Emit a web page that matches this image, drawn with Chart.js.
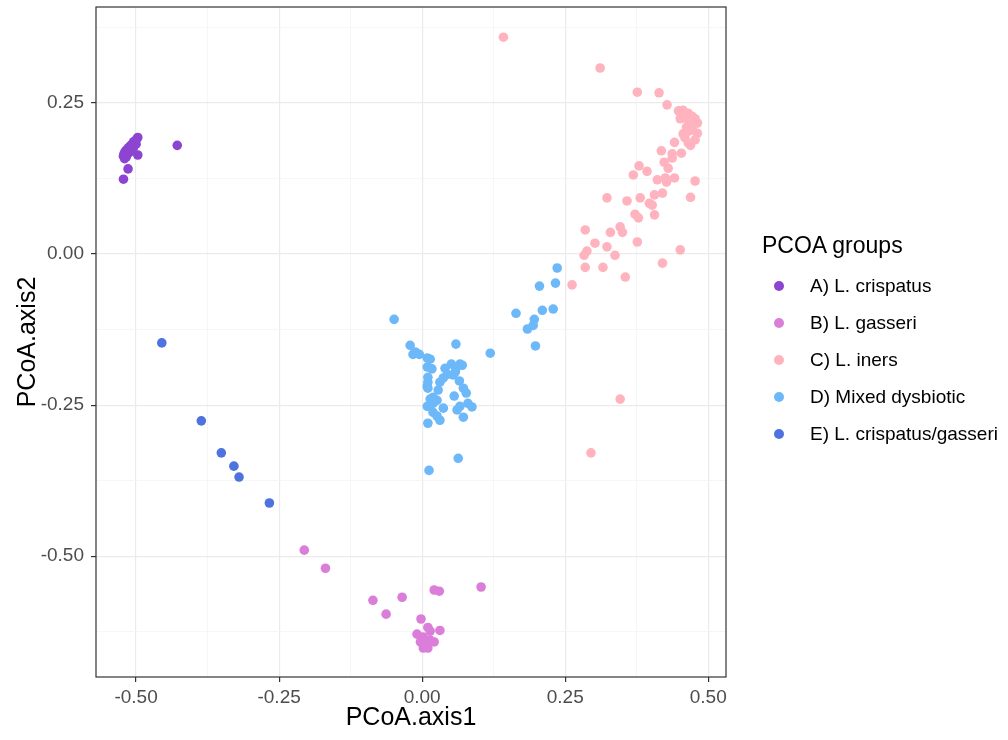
<!DOCTYPE html>
<html>
<head>
<meta charset="utf-8">
<script src="https://cdn.jsdelivr.net/npm/chart.js@4.4.1/dist/chart.umd.min.js"></script>
<style>
  html, body { margin: 0; padding: 0; background: #ffffff; }
  #wrap { position: relative; width: 1008px; height: 740px; }
  #pcoa { position: absolute; left: 0; top: 0; }
  #legend { position: absolute; left: 0; top: 0; font-family: "Liberation Sans", Arial, sans-serif; color: #000; }
  .lg-title { position: absolute; left: 762px; font-size: 23px; line-height: 28px; white-space: nowrap; }
  .lg-item { position: absolute; left: 774px; font-size: 19px; line-height: 24px; white-space: nowrap; }
  .lg-dot { position: absolute; left: 0; top: 7px; width: 10px; height: 10px; border-radius: 50%; }
  .lg-text { position: absolute; left: 36px; top: 0; }
</style>
</head>
<body>
<div id="wrap">
  <canvas id="pcoa" width="1008" height="740"></canvas>
  <div id="legend"></div>
</div>
<script>
// PCoA coordinates (axis1, axis2) per community group
const groupNames = ['A) L. crispatus', 'B) L. gasseri', 'C) L. iners', 'D) Mixed dysbiotic', 'E) L. crispatus/gasseri'];
const groupColors = ['#8C44D1', '#DA7EDA', '#FFB3BE', '#6CB8F8', '#4E72DE'];

const crispatus = [
  [-0.428, 0.180], [-0.497, 0.164], [-0.514, 0.141], [-0.522, 0.124],
  [-0.497, 0.193], [-0.500, 0.189], [-0.504, 0.186], [-0.507, 0.182], [-0.510, 0.179],
  [-0.513, 0.176], [-0.516, 0.173], [-0.519, 0.170], [-0.521, 0.166], [-0.522, 0.162],
  [-0.520, 0.158], [-0.517, 0.161], [-0.512, 0.168], [-0.505, 0.175], [-0.500, 0.182]
];
const gasseri = [
  [-0.206, -0.490], [-0.169, -0.520], [-0.086, -0.573], [-0.063, -0.596], [-0.035, -0.568],
  [0.021, -0.556], [0.030, -0.558], [0.103, -0.551], [-0.002, -0.604], [0.010, -0.618],
  [0.031, -0.623], [0.014, -0.624], [-0.009, -0.629], [0.002, -0.634], [0.014, -0.639],
  [0.021, -0.642], [0.002, -0.652], [0.010, -0.652], [-0.003, -0.642], [0.007, -0.646]
];
const iners = [
  [0.142, 0.359], [0.311, 0.308], [0.376, 0.268], [0.414, 0.267], [0.428, 0.247],
  [0.448, 0.237], [0.456, 0.238], [0.465, 0.233], [0.472, 0.228], [0.477, 0.224],
  [0.481, 0.217], [0.451, 0.224], [0.460, 0.225], [0.469, 0.219], [0.474, 0.214],
  [0.472, 0.209], [0.481, 0.200], [0.456, 0.199], [0.477, 0.189], [0.469, 0.180],
  [0.465, 0.184], [0.453, 0.231], [0.462, 0.210], [0.467, 0.204], [0.459, 0.193],
  [0.441, 0.185], [0.418, 0.171], [0.437, 0.166], [0.453, 0.167], [0.437, 0.159],
  [0.423, 0.152], [0.430, 0.142], [0.379, 0.146], [0.393, 0.137], [0.369, 0.131],
  [0.411, 0.123], [0.441, 0.126], [0.427, 0.119], [0.477, 0.121], [0.425, 0.126],
  [0.323, 0.093], [0.358, 0.088], [0.381, 0.093], [0.397, 0.084], [0.402, 0.081],
  [0.406, 0.098], [0.420, 0.101], [0.469, 0.094], [0.372, 0.066], [0.378, 0.060],
  [0.406, 0.065], [0.346, 0.045], [0.350, 0.036], [0.329, 0.036], [0.285, 0.040],
  [0.302, 0.018], [0.376, 0.020], [0.323, 0.012], [0.288, 0.005], [0.283, -0.002],
  [0.337, -0.002], [0.451, 0.007], [0.285, -0.022], [0.316, -0.022], [0.420, -0.015],
  [0.355, -0.038], [0.262, -0.051], [0.346, -0.240], [0.295, -0.329]
];
const dysbiotic = [
  [-0.049, -0.108], [0.164, -0.098], [-0.021, -0.151], [-0.012, -0.162], [-0.016, -0.166],
  [-0.005, -0.166], [0.059, -0.149], [0.119, -0.164], [0.009, -0.172], [0.014, -0.174],
  [0.009, -0.187], [0.017, -0.190], [0.040, -0.189], [0.051, -0.182], [0.059, -0.189],
  [0.066, -0.182], [0.070, -0.184], [0.058, -0.195], [0.054, -0.200], [0.044, -0.199],
  [0.037, -0.205], [0.031, -0.212], [0.010, -0.204], [0.010, -0.212], [0.009, -0.219],
  [0.010, -0.222], [0.028, -0.225], [0.065, -0.210], [0.072, -0.222], [0.077, -0.230],
  [0.019, -0.237], [0.014, -0.240], [0.026, -0.242], [0.056, -0.235], [0.080, -0.247],
  [0.087, -0.253], [0.009, -0.252], [0.019, -0.247], [0.066, -0.252], [0.061, -0.258],
  [0.037, -0.255], [0.019, -0.262], [0.026, -0.268], [0.031, -0.275], [0.072, -0.270],
  [0.010, -0.280], [0.063, -0.338], [0.012, -0.358], [0.236, -0.023], [0.233, -0.048],
  [0.205, -0.053], [0.210, -0.093], [0.229, -0.091], [0.196, -0.108], [0.194, -0.118],
  [0.184, -0.124], [0.198, -0.152]
];
const crispatusGasseri = [
  [-0.455, -0.147], [-0.386, -0.276], [-0.351, -0.329], [-0.329, -0.351], [-0.320, -0.369], [-0.267, -0.412]
];
const groupPoints = [crispatus, gasseri, iners, dysbiotic, crispatusGasseri];

const xMajor = [-0.5, -0.25, 0, 0.25, 0.5];
const yMajor = [-0.5, -0.25, 0, 0.25];

const FONT = '"Liberation Sans", Arial, sans-serif';

function isMajor(v, majors) {
    return majors.some(m => Math.abs(m - v) < 1e-6);
}

// ggplot-like panel border on all four sides
const panelBorder = {
    id: 'panelBorder',
    afterDraw(chart) {
        const a = chart.chartArea;
        const c = chart.ctx;
        c.save();
        c.strokeStyle = '#333333';
        c.lineWidth = 1.2;
        c.strokeRect(a.left, a.top, a.right - a.left, a.bottom - a.top);
        c.restore();
    }
};

function axisOptions(min, max, majors, title) {
    return {
        type: 'linear',
        min: min,
        max: max,
        ticks: {
            stepSize: 0.125,
            includeBounds: false,
            autoSkip: false,
            maxRotation: 0,
            color: '#4D4D4D',
            font: { family: FONT, size: 19 },
            callback: v => isMajor(v, majors) ? v.toFixed(2) : ''
        },
        grid: {
            color: ctx => isMajor(ctx.tick.value, majors) ? '#EBEBEB' : '#F4F4F4',
            lineWidth: ctx => isMajor(ctx.tick.value, majors) ? 1.2 : 0.8,
            tickColor: ctx => isMajor(ctx.tick.value, majors) ? '#333333' : 'rgba(0,0,0,0)',
            tickLength: 5,
            tickWidth: 1.2
        },
        border: { display: false },
        title: {
            display: true,
            text: title,
            color: '#000000',
            font: { family: FONT, size: 25 }
        }
    };
}

const xAxis = axisOptions(-0.570, 0.531, xMajor, 'PCoA.axis1');
xAxis.ticks.padding = 4;
xAxis.title.padding = { top: 0, bottom: 7 };
xAxis.afterFit = scale => {
    scale.height = 63;
    scale.paddingLeft = 0;
    scale.paddingRight = 0;
};

const yAxis = axisOptions(-0.700, 0.409, yMajor, 'PCoA.axis2');
yAxis.ticks.padding = 7;
yAxis.title.padding = { top: 13, bottom: 0 };
yAxis.afterFit = scale => {
    scale.width = 96;
    scale.paddingTop = 0;
    scale.paddingBottom = 0;
};

const chart = new Chart(document.getElementById('pcoa'), {
    type: 'scatter',
    data: {
        datasets: groupNames.map((name, i) => ({
            label: name,
            data: groupPoints[i].map(p => ({ x: p[0], y: p[1] })),
            backgroundColor: groupColors[i],
            borderWidth: 0,
            pointRadius: 4.8,
            pointHoverRadius: 4.8
        }))
    },
    options: {
        responsive: false,
        animation: false,
        layout: { padding: { left: 0, top: 7, right: 282, bottom: 0 } },
        plugins: {
            legend: { display: false },
            tooltip: { enabled: false }
        },
        scales: { x: xAxis, y: yAxis }
    },
    plugins: [panelBorder]
});

// legend on the right, built from the datasets
const legend = document.getElementById('legend');
const legendTitle = document.createElement('div');
legendTitle.className = 'lg-title';
legendTitle.style.top = (245 - 14) + 'px';
legendTitle.textContent = 'PCOA groups';
legend.appendChild(legendTitle);
chart.data.datasets.forEach((ds, i) => {
    const item = document.createElement('div');
    item.className = 'lg-item';
    item.style.top = (286 + i * 37 - 12) + 'px';
    const dot = document.createElement('span');
    dot.className = 'lg-dot';
    dot.style.background = ds.backgroundColor;
    const text = document.createElement('span');
    text.className = 'lg-text';
    text.textContent = ds.label;
    item.appendChild(dot);
    item.appendChild(text);
    legend.appendChild(item);
});
</script>
</body>
</html>
